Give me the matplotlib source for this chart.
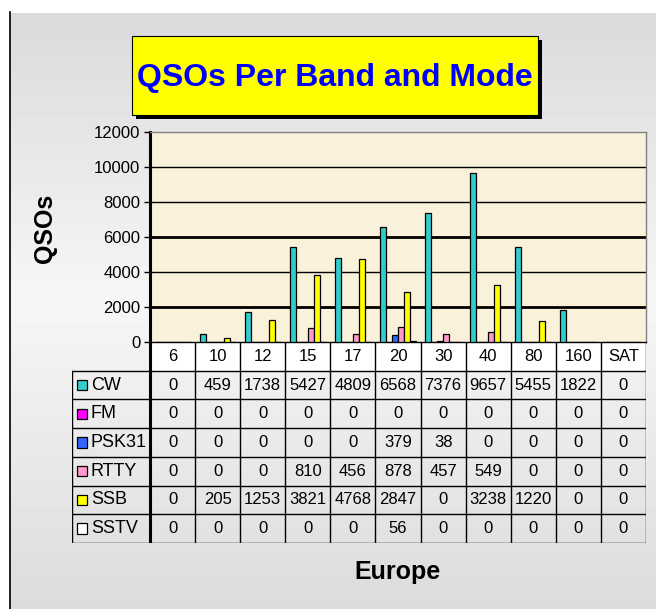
import numpy as np
import matplotlib
matplotlib.use("Agg")
import matplotlib.pyplot as plt
import matplotlib.patches as mpatches
from matplotlib import font_manager

# Data

BANDS = ["6", "10", "12", "15", "17", "20", "30", "40", "80", "160", "SAT"]
MODES = ["CW", "FM", "PSK31", "RTTY", "SSB", "SSTV"]

CW    = [0, 459, 1738, 5427, 4809, 6568, 7376, 9657, 5455, 1822, 0]
FM    = [0, 0, 0, 0, 0, 0, 0, 0, 0, 0, 0]
PSK31 = [0, 0, 0, 0, 0, 379, 38, 0, 0, 0, 0]
RTTY  = [0, 0, 0, 810, 456, 878, 457, 549, 0, 0, 0]
SSB   = [0, 205, 1253, 3821, 4768, 2847, 0, 3238, 1220, 0, 0]
SSTV  = [0, 0, 0, 0, 0, 56, 0, 0, 0, 0, 0]

YTICKS = [0, 2000, 4000, 6000, 8000, 10000, 12000]

TITLE  = "QSOs Per Band and Mode"
YLABEL = "QSOs"
XLABEL = "Europe"

# Styling

MODE_COLORS = ["#33CCCC", "#FF00FF", "#3366FF", "#FF99CC", "#FFFF00", "#FFFFFF"]
PLOT_BG     = "#FAF1DA"

names = {f.name for f in font_manager.fontManager.ttflist}
NARROW = "Liberation Sans Narrow" in names
FONT = "Liberation Sans Narrow" if NARROW else "Liberation Sans"
FS = 14 if NARROW else 12

W, H = 656, 609


def fx(px):
    return px / W


def fy(py):
    return 1 - py / H


def main():
    series = [CW, FM, PSK31, RTTY, SSB, SSTV]

    fig = plt.figure(figsize=(W / 100, H / 100), dpi=100)

    # background gradient
    bg = fig.add_axes([0, 0, 1, 1], zorder=-10)
    rows = np.arange(H)
    stops_y = [0, 12, 13, 300, 609]
    stops_v = [1.0, 1.0, 0.855, 0.965, 0.86]
    vals = np.interp(rows, stops_y, stops_v)
    grad = np.repeat(vals[:, None], W, axis=1)
    grad[:12, :] = 1.0
    grad[:, :9] = 1.0
    bg.imshow(grad, cmap="gray", vmin=0, vmax=1, aspect="auto",
              extent=[0, W, H, 0], interpolation="bilinear")
    bg.plot([10, 10], [12, H], color="black", lw=1.2)
    bg.set_xlim(0, W)
    bg.set_ylim(H, 0)
    bg.axis("off")

    # title box with drop shadow
    bg.add_patch(mpatches.Rectangle((136, 40), 406, 79, facecolor="black",
                                    edgecolor="none", zorder=2))
    bg.add_patch(mpatches.Rectangle((132, 36), 406, 79, facecolor="#FFFF00",
                                    edgecolor="black", lw=0.8, zorder=3))
    bg.text(335, 78, TITLE, ha="center", va="center", color="#0000FF",
            fontsize=28 if NARROW else 23, fontweight="bold", family=FONT,
            zorder=4)

    bg.text(45, 228, YLABEL, ha="center", va="center", rotation=90,
            fontsize=18, fontweight="bold", family="Liberation Sans")
    bg.text(397, 572, XLABEL, ha="center", va="center",
            fontsize=18, fontweight="bold", family="Liberation Sans")

    # bar chart
    ax = fig.add_axes([fx(150), fy(342), fx(646) - fx(150), fy(132) - fy(342)])
    ax.set_facecolor(PLOT_BG)
    x = np.arange(len(BANDS))
    n = len(series)
    bw = 0.8 / n
    for i, (vals_s, col) in enumerate(zip(series, MODE_COLORS)):
        ax.bar(x - 0.4 + bw * (i + 0.5), vals_s, width=bw, color=col,
               edgecolor="black", linewidth=0.9, zorder=3)

    ax.set_xlim(-0.5, len(BANDS) - 0.5)
    ax.set_ylim(0, 12000)
    ax.set_yticks(YTICKS)
    ax.set_yticklabels([str(t) for t in YTICKS], family=FONT, fontsize=FS)
    ax.set_xticks([])
    for t in YTICKS[1:-1]:
        lw = 2.0 if t in (2000, 6000) else 1.0
        ax.axhline(t, color="black", lw=lw, zorder=1)
    ax.tick_params(axis="y", length=4, width=1, pad=3)
    for side in ("top", "right"):
        ax.spines[side].set_color("#808080")
        ax.spines[side].set_linewidth(1.0)
    ax.spines["left"].set_linewidth(2.2)
    ax.spines["bottom"].set_linewidth(1.0)

    # data table under the chart
    lab_w = 78 / 45.1
    tab = fig.add_axes([fx(72), fy(543), fx(646) - fx(72), fy(342) - fy(543)])
    tab.set_xlim(-0.5 - lab_w, len(BANDS) - 0.5)
    tab.set_ylim(len(MODES) + 1, 0)
    tab.axis("off")
    xl, xr = -0.5 - lab_w, len(BANDS) - 0.5

    # header row (white cells with band names)
    tab.add_patch(mpatches.Rectangle((-0.5, 0), len(BANDS), 1,
                                     facecolor="white", edgecolor="none"))
    for j, b in enumerate(BANDS):
        tab.text(j, 0.5, b, ha="center", va="center", family=FONT, fontsize=FS)

    # grid lines
    tab.plot([-0.5, xr], [0, 0], color="black", lw=1.0)
    for r in range(1, len(MODES) + 2):
        tab.plot([xl, xr], [r, r], color="black", lw=1.0)
    for j in range(len(BANDS) + 1):
        tab.plot([j - 0.5, j - 0.5], [0, len(MODES) + 1], color="black",
                 lw=2.2 if j == 0 else 1.0)
    tab.plot([xl, xl], [1, len(MODES) + 1], color="black", lw=1.0)

    # mode rows
    for i, (mode, vals_s, col) in enumerate(zip(MODES, series, MODE_COLORS)):
        r = i + 1.5
        tab.add_patch(mpatches.Rectangle((xl + 0.12, r - 0.18), 0.22, 0.36,
                                         facecolor=col, edgecolor="black",
                                         lw=0.9))
        tab.text(xl + 0.42, r, mode, ha="left", va="center", family=FONT,
                 fontsize=FS + 1)
        for j, v in enumerate(vals_s):
            tab.text(j, r, str(v), ha="center", va="center", family=FONT,
                     fontsize=FS)

    fig.savefig("out.png", dpi=100)
    plt.close(fig)


if __name__ == "__main__":
    main()
